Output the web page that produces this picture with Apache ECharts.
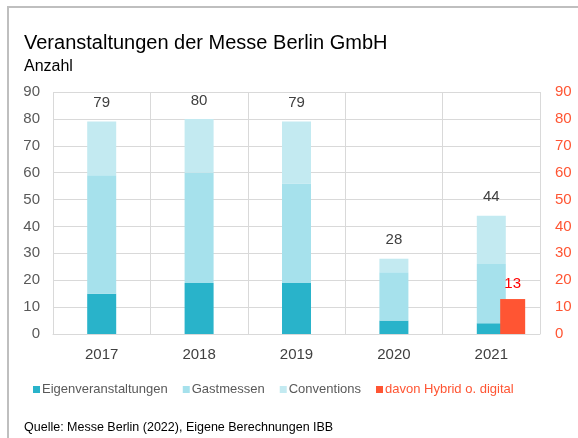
<!DOCTYPE html>
<html>
<head>
<meta charset="utf-8">
<script src="https://cdn.jsdelivr.net/npm/echarts@6/dist/echarts.min.js"></script>
<style>
  html, body { margin: 0; padding: 0; background: #fff; }
  #chart { width: 578px; height: 438px; }
</style>
</head>
<body>
<div id="chart"></div>
<script>
// Daten
const years = ['2017', '2018', '2019', '2020', '2021'];
const eigenveranstaltungen = [15, 19, 19, 5, 4];
const gastmessen = [44, 41, 37, 18, 22];
const conventions = [20, 20, 23, 5, 18];
const hybrid = ['-', '-', '-', '-', 13];

const totals = years.map((y, i) => eigenveranstaltungen[i] + gastmessen[i] + conventions[i]);

const font = 'Liberation Sans, Arial, sans-serif';
const chart = echarts.init(document.getElementById('chart'));

const option = {
  animation: false,
  textStyle: { fontFamily: font },
  graphic: [{
    type: 'rect',
    shape: { x: 8, y: 7, width: 700, height: 600 },
    style: { fill: 'none', stroke: '#bfbfbf', lineWidth: 2 },
    silent: true
  }],
  title: [
    { text: 'Veranstaltungen der Messe Berlin GmbH', left: 19, top: 28,
      textStyle: { fontSize: 20, fontWeight: 'normal', color: '#000', fontFamily: font } },
    { text: 'Anzahl', left: 19, top: 54,
      textStyle: { fontSize: 16, fontWeight: 'normal', color: '#000', fontFamily: font } },
    { text: 'Quelle: Messe Berlin (2022), Eigene Berechnungen IBB', left: 19, top: 416,
      textStyle: { fontSize: 12.5, fontWeight: 'normal', color: '#000', fontFamily: font } }
  ],
  legend: {
    left: 28, top: 378,
    icon: 'rect', itemWidth: 7, itemHeight: 7, itemGap: 15,
    textStyle: { fontSize: 13, color: '#595959', fontFamily: font, padding: [0, 0, 0, -3] },
    data: [
      'Eigenveranstaltungen', 'Gastmessen', 'Conventions',
      { name: 'davon Hybrid o. digital', textStyle: { color: '#ff5533' } }
    ]
  },
  grid: { left: 53, right: 38, top: 92, bottom: 104 },
  xAxis: [{
    type: 'category',
    data: years,
    axisTick: { show: false },
    axisLine: { lineStyle: { color: '#d9d9d9' } },
    splitLine: { show: true, lineStyle: { color: '#d9d9d9' } },
    axisLabel: { fontSize: 15, color: '#404040', margin: 13 }
  }, {
    type: 'category',
    data: years,
    show: false
  }],
  yAxis: [{
    type: 'value', min: 0, max: 90, interval: 10,
    axisLabel: { fontSize: 15, color: '#595959', margin: 13 },
    splitLine: { lineStyle: { color: '#d9d9d9' } }
  }, {
    type: 'value', min: 0, max: 90, interval: 10,
    position: 'right',
    axisLabel: { fontSize: 15, color: '#ff5533', margin: 15 },
    splitLine: { show: false }
  }],
  series: [
    { name: 'Eigenveranstaltungen', type: 'bar', stack: 'gesamt', barWidth: 29,
      data: eigenveranstaltungen, itemStyle: { color: '#29b3ca' } },
    { name: 'Gastmessen', type: 'bar', stack: 'gesamt',
      data: gastmessen, itemStyle: { color: '#a6e1ec' } },
    { name: 'Conventions', type: 'bar', stack: 'gesamt',
      data: conventions, itemStyle: { color: '#c3eaf1' },
      label: {
        show: true, position: 'top', distance: 11,
        fontSize: 15, color: '#404040',
        formatter: p => totals[p.dataIndex]
      } },
    // Platzhalter, damit der rote Balken rechts versetzt steht
    { name: 'platzhalter', type: 'bar', xAxisIndex: 1, yAxisIndex: 1, barWidth: 25, barGap: '71%',
      data: ['-', '-', '-', '-', '-'] },
    { name: 'davon Hybrid o. digital', type: 'bar', xAxisIndex: 1, yAxisIndex: 1, barWidth: 25,
      data: hybrid, itemStyle: { color: '#ff5533' }, z: 5,
      label: { show: true, position: 'top', distance: 8, fontSize: 15, color: '#ff0000' } }
  ]
};

chart.setOption(option);
</script>
</body>
</html>
